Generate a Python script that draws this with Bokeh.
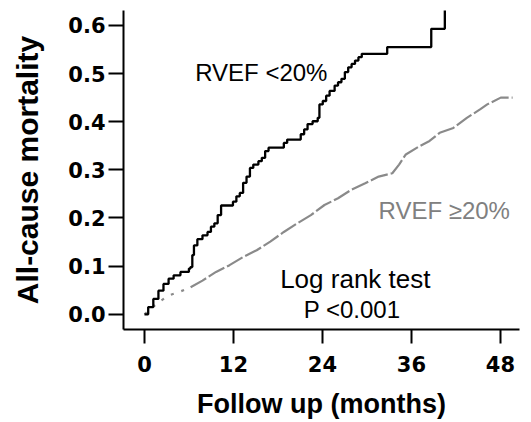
from bokeh.plotting import figure
from bokeh.models import Range1d, FixedTicker, PrintfTickFormatter, ColumnDataSource
from bokeh.core.properties import value
from bokeh.embed import file_html
from bokeh.resources import INLINE

# RVEF <20% (cumulative all-cause mortality, step curve)
low_months = [0, 0.5, 1.19, 1.88, 2.56, 3.25, 3.93, 4.85, 5.99, 6.2, 6.45, 6.67,
              7.13, 7.82, 8.5, 8.96, 9.42, 9.87, 10.33, 11.93, 12.39, 12.85, 13.3,
              13.76, 14.22, 14.67, 15.36, 15.82, 16.27, 16.73, 18.79, 19.24, 21.07,
              21.53, 21.99, 22.67, 23.36, 23.59, 24.04, 24.5, 24.96, 25.64, 26.1,
              26.56, 27.02, 27.47, 27.93, 28.39, 28.85, 29.3, 32.73, 38.67, 40.5]
low_mortality = [0, 0.015, 0.032, 0.049, 0.063, 0.074, 0.081, 0.088, 0.095, 0.098,
                 0.123, 0.143, 0.156, 0.164, 0.171, 0.182, 0.189, 0.206, 0.226, 0.234,
                 0.245, 0.252, 0.273, 0.286, 0.304, 0.311, 0.318, 0.325, 0.339, 0.346,
                 0.356, 0.363, 0.374, 0.384, 0.395, 0.401, 0.408, 0.436, 0.443, 0.454,
                 0.464, 0.475, 0.482, 0.489, 0.503, 0.513, 0.520, 0.527, 0.534, 0.541,
                 0.555, 0.593, 0.70]

# RVEF >=20%
high_months = [0, 1.65, 3.25, 4.62, 6.22, 7.82, 9.65, 11.47, 13.3, 15.13, 16.96,
               18.79, 20.61, 22.44, 24.27, 26.1, 27.93, 29.76, 31.58, 33.42, 34.33,
               35.24, 37.07, 38.44, 39.81, 41.65, 43.47, 45.3, 46.22, 48.04, 49.64]
high_mortality = [0, 0.022, 0.039, 0.046, 0.056, 0.070, 0.088, 0.102, 0.119, 0.133,
                  0.151, 0.171, 0.189, 0.206, 0.227, 0.241, 0.259, 0.272, 0.286, 0.293,
                  0.311, 0.332, 0.349, 0.360, 0.377, 0.387, 0.408, 0.426, 0.436, 0.450,
                  0.450]

x_ticks = [0, 12, 24, 36, 48]
y_ticks = [0.0, 0.1, 0.2, 0.3, 0.4, 0.5, 0.6]

note_text = ["RVEF <20%", "RVEF \u226520%", "Log rank test", "P <0.001"]
note_x = [15.75, 40.42, 28.43, 27.99]
note_y = [0.503, 0.215, 0.073, 0.010]

p = figure(width=531, height=422,
           x_range=Range1d(-2.83, 50.57), y_range=Range1d(-0.0316, 0.631),
           output_backend="svg", toolbar_location=None,
           min_border_left=123, min_border_right=12,
           min_border_top=10, min_border_bottom=93)
p.xgrid.visible = False
p.ygrid.visible = False
p.outline_line_color = None
p.background_fill_color = "white"

for ax in p.axis:
    ax.axis_line_width = 2
    ax.axis_line_color = "black"
    ax.major_tick_line_width = 2
    ax.major_tick_line_color = "black"
    ax.major_tick_in = 0
    ax.minor_tick_in = 0
    ax.minor_tick_out = 0
    ax.major_label_text_font = "DejaVu Sans"
    ax.major_label_text_font_style = "bold"
    ax.major_label_text_font_size = "21px"
    ax.major_label_text_color = "black"
    ax.axis_label_text_font = "Liberation Sans"
    ax.axis_label_text_font_style = "bold"
    ax.axis_label_text_color = "black"

p.xaxis.ticker = FixedTicker(ticks=x_ticks)
p.yaxis.ticker = FixedTicker(ticks=y_ticks)
p.yaxis.formatter = PrintfTickFormatter(format="%.1f")
p.xaxis.major_tick_out = 14
p.yaxis.major_tick_out = 15
p.xaxis.major_label_standoff = 12
p.yaxis.major_label_standoff = 3
p.xaxis.axis_label = "Follow up (months)"
p.xaxis.axis_label_text_font_size = "27px"
p.xaxis.axis_label_standoff = 14
p.yaxis.axis_label = "All-cause mortality"
p.yaxis.axis_label_text_font_size = "30px"
p.yaxis.axis_label_standoff = 21

gray = "#8a8a8a"
k = 5
p.line(high_months[:k], high_mortality[:k], line_color=gray, line_width=2.2,
       line_dash="3 8")
p.line(high_months[k - 1:], high_mortality[k - 1:], line_color=gray, line_width=2.2,
       line_dash="18 3")
p.step(low_months, low_mortality, mode="after", line_color="black", line_width=2.3)

notes = ColumnDataSource(dict(x=note_x, y=note_y, text=note_text,
                              color=["black", "#808080", "black", "black"],
                              size=["24px", "24px", "26px", "24px"]))
p.text(x="x", y="y", text="text", source=notes, text_color="color",
       text_font_size="size", text_font=value("Liberation Sans"),
       text_align="center", text_baseline="alphabetic")

open("out.html", "w").write(file_html(p, INLINE))
